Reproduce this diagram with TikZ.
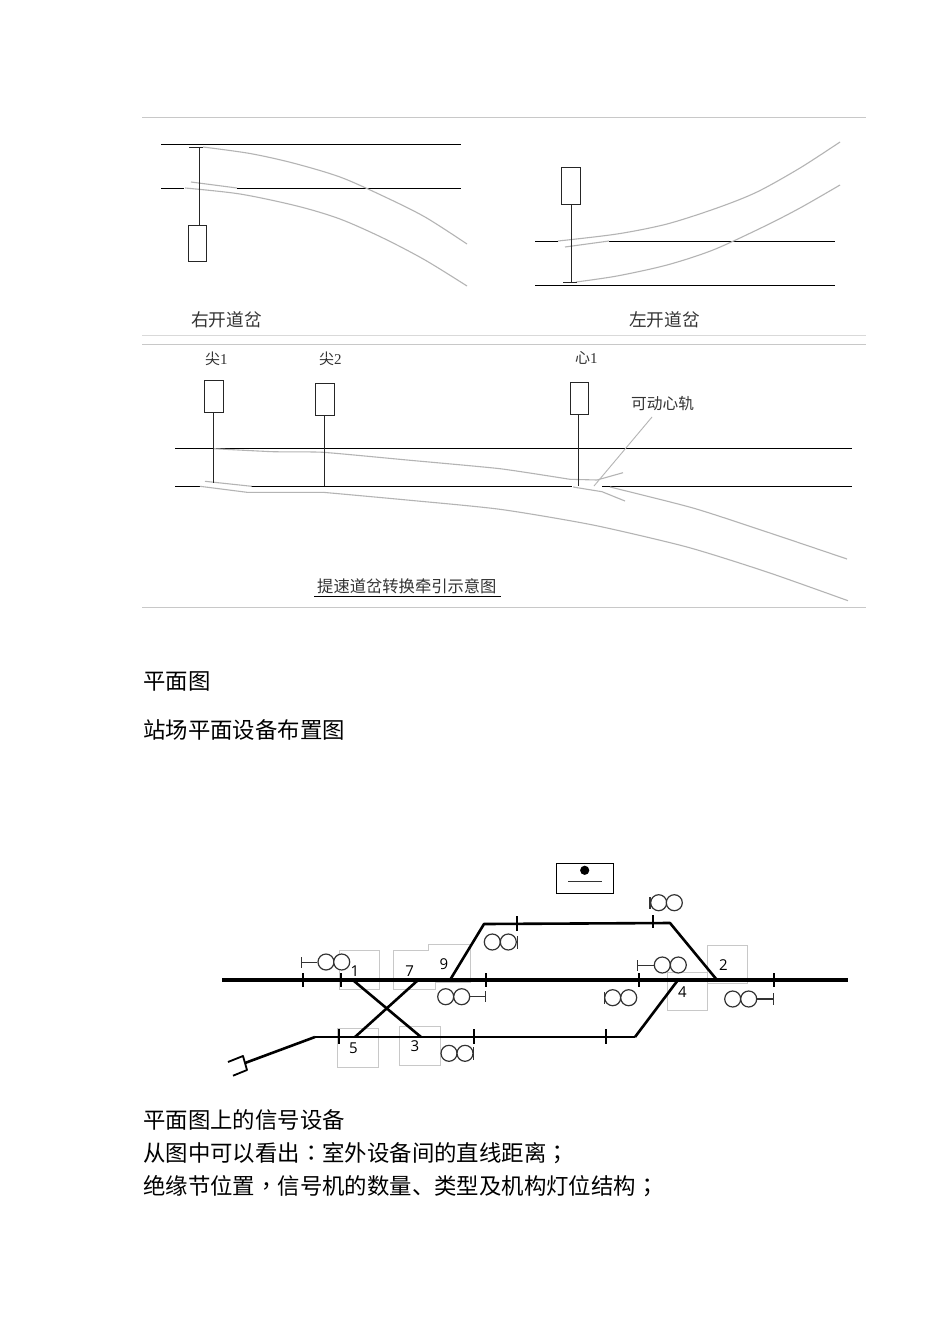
\documentclass[tikz,border=0pt]{standalone}
\usepackage{fontspec}
\setmainfont{Liberation Serif}
\newfontfamily\cjk{Noto Sans CJK SC}
\newfontfamily\cjkp{Noto Sans CJK TC}
\newfontfamily\numf{Open Sans}
\usetikzlibrary{calc}
\definecolor{rulegray}{HTML}{C8C8C8}
\definecolor{railgray}{HTML}{B4B4B4}
\definecolor{labelgray}{HTML}{333333}
\tikzset{
  page rule/.style={draw=rulegray,line width=1pt},
  thin track/.style={draw=black,line width=1pt},
  rail/.style={draw=railgray,line width=1.1pt,line join=round},
  machine/.style={draw=black!85,line width=1pt,fill=white,rectangle,inner sep=0pt,minimum width=18.5pt},
  rod/.style={draw=black!85,line width=1pt},
  label text/.style={font=\cjk\fontsize{17.7}{17.7}\selectfont,text=labelgray,inner sep=0pt,anchor=west},
  body text/.style={font=\cjk\fontsize{22.4}{22.4}\selectfont,text=black,inner sep=0pt,anchor=west},
  main line/.style={draw=black,line width=3.4pt},
  side line/.style={draw=black,line width=2.6pt,line join=round},
  low line/.style={draw=black,line width=2.5pt,line join=round},
  joint/.style={draw=black,line width=2pt},
  lamp/.style={circle,draw=black!80,line width=1.2pt,fill=white,minimum size=16pt,inner sep=0pt},
  stem/.style={draw=black!80,line width=1pt},
  zone/.style={draw=rulegray,line width=0.8pt},
  numlabel/.style={font=\numf\fontsize{15}{15}\selectfont,inner sep=0pt},
}
\begin{document}
\begin{tikzpicture}[x=1pt,y=-1pt]
\useasboundingbox (0,0) rectangle (950,1344);
\fill[white] (0,0) rectangle (950,1344);
% page rules
\draw[page rule] (142,117.5) -- (866,117.5);
\draw[page rule,draw=rulegray!70] (142,335.5) -- (866,335.5);
\draw[page rule] (142,344.5) -- (866,344.5);
\draw[page rule] (142,607.5) -- (866,607.5);

% --- right-hand turnout
\draw[thin track] (161,144.5) -- (461,144.5);
\draw[thin track] (161,188.5) -- (184,188.5);
\draw[thin track] (237,188.5) -- (461,188.5);
\draw[rail] plot[smooth,tension=.5] coordinates {(203,147) (250,153.5) (293,163) (340,177) (383,196) (425,217) (467,244)};
\draw[rail] plot[smooth,tension=.5] coordinates {(185,188) (240,194) (297,206) (340,219) (383,238) (425,260) (467,286)};
\draw[rail] (191,182) -- (237,188);
\node[machine,minimum height=36.4pt] (ra) at (197.5,243.5) {};
\coordinate (rat) at (199.5,146.7);
\draw[rod] (ra.north -| rat) -- (rat);
\draw[rod] (189,147.5) -- (203,147.5);
\node[label text] (rl) at (191,320) {右开道岔};

% --- left-hand turnout
\draw[thin track] (535,241.5) -- (558,241.5);
\draw[thin track] (609,241.5) -- (835,241.5);
\draw[thin track] (535,285.5) -- (835,285.5);
\draw[rail] plot[smooth,tension=.5] coordinates {(558,241) (617,234) (667,224) (717,208) (757,192) (800,168) (840,142)};
\draw[rail] (565,247) -- (609,241);
\draw[rail] plot[smooth,tension=.5] coordinates {(576,282) (617,276) (667,265) (713,250) (763,227) (800,208) (840,185)};
\node[machine,minimum height=37pt] (la) at (571,185.8) {};
\coordinate (lab) at (571.5,283);
\draw[rod] (la.south -| lab) -- (lab);
\draw[rod] (563,282.5) -- (577,282.5);
\node[label text] (ll) at (629,320) {左开道岔};

% --- speed-up turnout
\draw[thin track] (175,448.5) -- (852,448.5);
\draw[thin track] (175,486.5) -- (200,486.5);
\draw[thin track] (251,486.5) -- (572,486.5);
\draw[thin track] (602,486.5) -- (852,486.5);
\draw[rail] plot[smooth,tension=.3] coordinates {(214,448.7) (273,451.7) (323,452.3) (407,460) (500,468.7) (570,479.3)} -- (597,480) -- (623,472.7);
\draw[rail] (205,481.3) -- (251.7,486.3);
\draw[rail] (200,486.3) -- (247,492.3) -- (323,492.3);
\draw[rail] plot[smooth,tension=.4] coordinates {(323,492.3) (407,500) (500,509.3) (593,525) (687,547) (767,572) (848,600.7)};
\draw[rail] (573,487) -- (602,491.7) -- (625,501);
\draw[rail] plot[smooth,tension=.4] coordinates {(610,487) (693,508) (767,532) (847,559)};
\coordinate (lead a) at (652,417);
\coordinate (lead b) at (594,486);
\draw[rail,line width=0.9pt] (lead a) -- (lead b);
\node[machine,minimum height=32pt] (m1) at (214.2,396) {};
\node[machine,minimum height=32.3pt] (m2) at (325,399.2) {};
\node[machine,minimum height=32pt] (m3) at (579.5,398) {};
\coordinate (m1b) at (213.5,483);
\coordinate (m2b) at (324.5,486.3);
\coordinate (m3b) at (578.5,486.3);
\draw[rod] (m1.south -| m1b) -- (m1b);
\draw[rod] (m2.south -| m2b) -- (m2b);
\draw[rod] (m3.south -| m3b) -- (m3b);
\node[label text,font=\fontsize{15}{15}\selectfont] (t1) at (205,358.5) {{\cjk\fontsize{15}{15}\selectfont 尖}1};
\node[label text,font=\fontsize{15}{15}\selectfont] (t2) at (319,358.5) {{\cjk\fontsize{15}{15}\selectfont 尖}2};
\node[label text,font=\fontsize{15}{15}\selectfont] (t3) at (575,357.5) {{\cjk\fontsize{15}{15}\selectfont 心}1};
\node[label text,font=\cjk\fontsize{15.7}{15.7}\selectfont] (t4) at (631,403.5) {可动心轨};
\node[label text,font=\cjk\fontsize{16.3}{16.3}\selectfont] (cap) at (317,586) {提速道岔转换牵引示意图};
\draw[draw=black,line width=1pt] (314,596.5) -- (501,596.5);

% --- headings
\node[body text] (h1) at (143,681) {平面图};
\node[body text] (h2) at (143,730) {站场平面设备布置图};
\node[body text] (b1) at (143,1120) {平面图上的信号设备};
\node[body text] (b2) at (143,1153) {从图中可以看出{\cjkp ：}室外设备间的直线距离{\cjkp ；}};
\node[body text] (b3) at (143,1186) {绝缘节位置{\cjkp ，}信号机的数量、类型及机构灯位结构{\cjkp ；}};

% --- station zones
\draw[zone] (339.5,950.5) rectangle (379.5,989.5);
\draw[zone] (393.5,989.5) -- (393.5,950.5) -- (428.5,950.5) -- (428.5,944.5) -- (470,944.5) -- (470,982) -- (435,982) -- (435,989.5) -- cycle;
\draw[zone] (337.5,1028.5) rectangle (378.5,1067.5);
\draw[zone] (399.5,1026.5) rectangle (440.5,1065.5);
\draw[zone] (707.5,945.5) rectangle (747.5,983.5);
\draw[zone] (667.5,972.5) rectangle (707.5,1010.5);

% --- station tracks
\coordinate (mw) at (222,980);
\coordinate (me) at (848,980);
\coordinate (sa) at (450,980);
\coordinate (sb) at (484,924);
\coordinate (sc) at (670,923);
\coordinate (sd) at (717,980);
\coordinate (la1) at (315,1037);
\coordinate (la2) at (635,1037);
\coordinate (la3) at (678,980);
\coordinate (x1) at (354,981);
\coordinate (x2) at (421,1037);
\coordinate (x3) at (417,981);
\coordinate (x4) at (355,1037);
\coordinate (bf) at (245,1063);
\coordinate (bfa) at (243,1056);
\coordinate (bfb) at (247,1070);
\coordinate (bfc) at (228,1062);
\coordinate (bfd) at (233,1075.7);
\draw[main line] (mw) -- (me);
\draw[side line] (sa) -- (sb) -- (sc) -- (sd);
\draw[low line] (la1) -- (la2);
\draw[side line] (la2) -- (la3);
\draw[side line] (x1) -- (x2);
\draw[side line] (x3) -- (x4);
\draw[side line] (la1) -- (bf);
\draw[side line,line width=1.8pt] (bfc) -- (bfa) -- (bfb) -- (bfd);
% insulated joints
\foreach \jx in {303,341,486,639,774} \draw[joint] (\jx,973) -- (\jx,987);
\foreach \jx in {339,474,606} \draw[joint] (\jx,1029) -- (\jx,1044);
\draw[joint] (517,916) -- (517,931);
\draw[joint] (653,915) -- (653,928);

% --- signals
\node[lamp] (s1a) at (326,962) {};
\node[lamp] (s1b) at (341.7,962) {};
\coordinate (s1e) at (301.5,962.5);
\draw[stem] (s1e) -- (s1e -| s1a.west);
\draw[stem] (301.5,957) -- (301.5,967.5);

\node[lamp] (s2a) at (445.7,996.7) {};
\node[lamp] (s2b) at (461.7,996.7) {};
\coordinate (s2e) at (485.5,996.5);
\draw[stem] (s2b.east |- s2e) -- (s2e);
\draw[stem] (485.5,991) -- (485.5,1002);

\node[lamp] (s3a) at (449,1053.3) {};
\node[lamp] (s3b) at (465,1053.3) {};
\draw[stem,line width=1.2pt] (473.5,1047) -- (473.5,1060);

\node[lamp] (s4a) at (492.3,942) {};
\node[lamp] (s4b) at (508.3,942) {};
\draw[stem] (517.5,936) -- (517.5,949);

\node[lamp] (s5a) at (658.7,902.7) {};
\node[lamp] (s5b) at (674.3,902.7) {};
\draw[stem,line width=1.8pt] (650,897) -- (650,909);

\node[lamp] (s6a) at (662.3,965) {};
\node[lamp] (s6b) at (678.3,965) {};
\coordinate (s6e) at (637.5,965.5);
\draw[stem] (s6e) -- (s6e -| s6a.west);
\draw[stem] (637.5,960) -- (637.5,971);

\node[lamp] (s7a) at (612.7,997.7) {};
\node[lamp] (s7b) at (628.7,997.7) {};
\draw[stem] (604.5,992) -- (604.5,1004);

\node[lamp] (s8a) at (732.7,999) {};
\node[lamp] (s8b) at (748.7,999) {};
\coordinate (s8e) at (773,999);
\draw[stem,line width=1.6pt] (s8b) -- (s8e);
\draw[stem] (773.5,993) -- (773.5,1005);

% --- numbers
\node[numlabel] (n1) at (355,970.7) {1};
\node[numlabel] (n7) at (409.7,970.7) {7};
\node[numlabel] (n9) at (444,964) {9};
\node[numlabel] (n5) at (353.5,1048.5) {5};
\node[numlabel] (n3) at (415,1046) {3};
\node[numlabel] (n2) at (723.3,965.3) {2};
\node[numlabel] (n4) at (682.3,992.3) {4};

% --- legend box
\node[draw=black,line width=1pt,rectangle,minimum width=56.5pt,minimum height=30pt,inner sep=0pt] (box) at (585.2,878.3) {};
\fill[black] (584.7,870.3) circle (4.6pt);
\draw[draw=black!80,line width=1pt] (568,881.5) -- (602,881.5);
\end{tikzpicture}
\end{document}
